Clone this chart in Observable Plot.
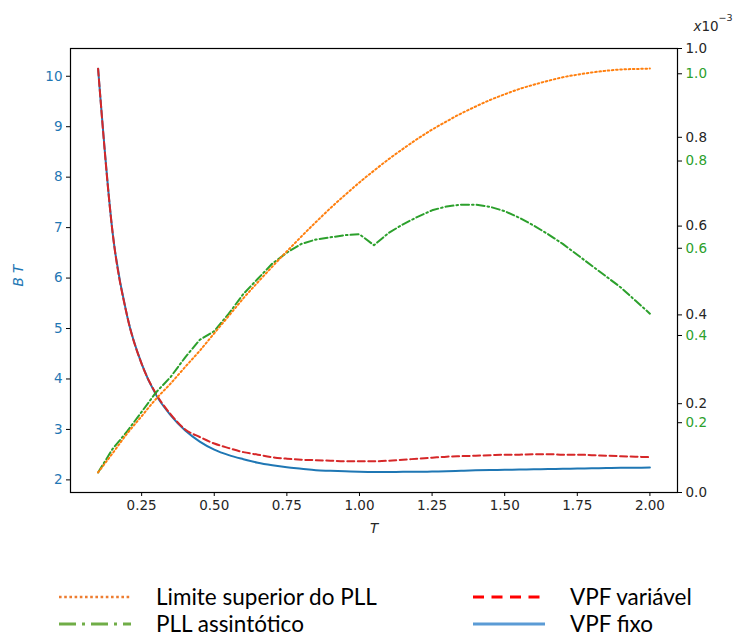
<!DOCTYPE html>
<html>
<head>
<meta charset="utf-8">
<script src="https://cdn.jsdelivr.net/npm/d3@7"></script>
<script src="https://cdn.jsdelivr.net/npm/@observablehq/plot@0.6"></script>
<style>
  html, body { margin: 0; padding: 0; background: #fff; }
  #wrap { width: 738px; }
  #legend { position: relative; width: 738px; height: 78px; font-family: Lato, "Liberation Sans", sans-serif; font-size: 22.5px; line-height: 24px; color: #000; }
  .item { position: absolute; display: flex; align-items: center; height: 24px; }
  .item svg { margin-right: 24px; }
</style>
</head>
<body>
<div id="wrap">
  <div id="chart"></div>
  <div id="legend"></div>
</div>
<script>
// Period T (x axis)
const T = [0.10, 0.15, 0.20, 0.25, 0.30, 0.35, 0.40, 0.45, 0.50, 0.55,
           0.60, 0.65, 0.70, 0.75, 0.80, 0.85, 0.90, 0.95, 1.00, 1.05,
           1.10, 1.15, 1.20, 1.25, 1.30, 1.35, 1.40, 1.45, 1.50, 1.55,
           1.60, 1.65, 1.70, 1.75, 1.80, 1.85, 1.90, 1.95, 2.00];

// B·T, left axis
const vpfFixo = [10.15, 6.90, 5.25, 4.30, 3.68, 3.28, 2.98, 2.76, 2.60, 2.49,
                 2.41, 2.34, 2.29, 2.25, 2.22, 2.19, 2.18, 2.17, 2.16, 2.155,
                 2.155, 2.16, 2.16, 2.165, 2.17, 2.18, 2.19, 2.195, 2.20, 2.205,
                 2.21, 2.215, 2.22, 2.225, 2.23, 2.235, 2.24, 2.24, 2.245];
const vpfVariavel = [10.15, 6.90, 5.25, 4.30, 3.70, 3.30, 3.00, 2.85, 2.72, 2.63,
                     2.55, 2.50, 2.45, 2.42, 2.40, 2.39, 2.38, 2.37, 2.37, 2.37,
                     2.38, 2.40, 2.42, 2.44, 2.46, 2.47, 2.48, 2.49, 2.50, 2.50,
                     2.51, 2.51, 2.50, 2.50, 2.49, 2.48, 2.47, 2.46, 2.45];

// PLL curves, right axis (x10^-3)
const pllLimite = [0.086, 0.13, 0.175, 0.215, 0.255, 0.29, 0.328, 0.365, 0.405, 0.445,
                   0.485, 0.522, 0.558, 0.593, 0.627, 0.66, 0.692, 0.722, 0.751, 0.778,
                   0.804, 0.828, 0.851, 0.872, 0.891, 0.909, 0.925, 0.94, 0.953, 0.965,
                   0.975, 0.984, 0.992, 0.998, 1.003, 1.007, 1.01, 1.011, 1.012];
const pllAssintotico = [0.086, 0.14, 0.18, 0.225, 0.27, 0.305, 0.35, 0.39, 0.41, 0.45,
                        0.495, 0.53, 0.565, 0.59, 0.61, 0.62, 0.625, 0.63, 0.632, 0.607,
                        0.635, 0.655, 0.672, 0.687, 0.696, 0.70, 0.70, 0.695, 0.685, 0.67,
                        0.652, 0.632, 0.61, 0.585, 0.56, 0.535, 0.51, 0.48, 0.45];

// Tick values
const xTicks = [0.25, 0.50, 0.75, 1.00, 1.25, 1.50, 1.75, 2.00];
const leftTicks = [2, 3, 4, 5, 6, 7, 8, 9, 10];
const rightTicks = [0.0, 0.2, 0.4, 0.6, 0.8, 1.0];
const greenTicks = [0.2, 0.4, 0.6, 0.8, 1.0];

// Axis ranges
const xDomain = [0.005, 2.095];
const yLo = 1.75, yHi = 10.55;      // left axis
const gLo = 0.040, gHi = 1.058;     // twin axis carrying the PLL curves

// map twin-axis values onto the left scale
const g2y = v => yLo + (v - gLo) / (gHi - gLo) * (yHi - yLo);
const y2g = y => gLo + (y - yLo) / (yHi - yLo) * (gHi - gLo);
const k2y = v => yLo + v * (yHi - yLo);
const y2k = y => (y - yLo) / (yHi - yLo);

const C = {blue: "#1f77b4", red: "#d62728", green: "#2ca02c", orange: "#ff7f0e"};

const rows = T.map((t, i) => ({
  t,
  fixo: vpfFixo[i],
  variavel: vpfVariavel[i],
  limite: g2y(pllLimite[i]),
  assint: g2y(pllAssintotico[i])
}));

const font = "DejaVu Sans, sans-serif";

const chart = Plot.plot({
  width: 738,
  height: 560,
  marginLeft: 70,
  marginRight: 61,
  marginTop: 48,
  marginBottom: 68,
  style: {fontFamily: font, fontSize: "13.5px", background: "#fff", overflow: "visible"},
  x: {domain: xDomain, axis: null},
  y: {domain: [yLo, yHi], axis: null},
  marks: [
    Plot.line(rows, {x: "t", y: "fixo", stroke: C.blue, strokeWidth: 2, curve: "monotone-x"}),
    Plot.line(rows, {x: "t", y: "variavel", stroke: C.red, strokeWidth: 2, strokeDasharray: "7,3.5", curve: "monotone-x"}),
    Plot.line(rows, {x: "t", y: "assint", stroke: C.green, strokeWidth: 2, strokeDasharray: "8,3,1.6,3"}),
    Plot.line(rows, {x: "t", y: "limite", stroke: C.orange, strokeWidth: 2, strokeDasharray: "1.6,2.6", curve: "monotone-x"}),
    Plot.frame({stroke: "#000", strokeWidth: 1.2}),
    Plot.axisX(xTicks, {anchor: "bottom", tickSize: 4, tickPadding: 4, tickFormat: d3.format(".2f"),
      stroke: "#000", fill: "#262626", fontSize: 13.5, label: null}),
    Plot.axisY(leftTicks, {anchor: "left", tickSize: 4, tickPadding: 4, tickFormat: d => d,
      stroke: "#000", fill: C.blue, fontSize: 13.5, label: null}),
    Plot.axisY(rightTicks.map(k2y), {anchor: "right", tickSize: 4, tickPadding: 4,
      tickFormat: d => y2k(d).toFixed(1), stroke: "#000", fill: "#262626", fontSize: 13.5, label: null}),
    Plot.axisY(greenTicks.map(g2y), {anchor: "right", tickSize: 4, tickPadding: 4,
      tickFormat: d => y2g(d).toFixed(1), stroke: "#000", fill: C.green, fontSize: 13.5, label: null}),
    // axis titles
    Plot.text(["T"], {frameAnchor: "bottom", dy: 40, fill: "#262626", fontStyle: "italic", fontSize: 13.5}),
    Plot.text(["B T"], {frameAnchor: "left", dx: -52, dy: 16, rotate: -90, fill: C.blue, fontStyle: "italic", fontSize: 13.5}),
    // scale factor of the right axis
    Plot.text(["x"], {frameAnchor: "top-right", dx: 16, dy: -27, fill: "#262626", fontStyle: "italic", fontSize: 13.5, textAnchor: "start"}),
    Plot.text(["10"], {frameAnchor: "top-right", dx: 24, dy: -27, fill: "#262626", fontSize: 13.5, textAnchor: "start"}),
    Plot.text(["\u22123"], {frameAnchor: "top-right", dx: 41, dy: -34, fill: "#262626", fontSize: 9.5, textAnchor: "start"})
  ]
});
document.getElementById("chart").appendChild(chart);

// legend below the chart
const legendItems = [
  {label: "Limite superior do PLL", color: "#ed7d31", dash: "2.6,2.6", width: 2.6, left: 58, top: 37},
  {label: "PLL assintótico", color: "#70ad47", dash: "17,6,3,6", width: 3, left: 58, top: 64},
  {label: "VPF variável", color: "#ff0000", dash: "11,7.5", width: 3, left: 472, top: 37},
  {label: "VPF fixo", color: "#5b9bd5", dash: null, width: 3, left: 472, top: 64}
];
const legend = d3.select("#legend");
for (const it of legendItems) {
  const div = legend.append("div").attr("class", "item")
    .style("left", it.left + "px").style("top", (it.top - 12) + "px");
  const s = div.append("svg").attr("width", 74).attr("height", 10);
  s.append("line").attr("x1", 1).attr("x2", 73).attr("y1", 5).attr("y2", 5)
    .attr("stroke", it.color).attr("stroke-width", it.width)
    .attr("stroke-dasharray", it.dash);
  div.append("span").text(it.label);
}
</script>
</body>
</html>
